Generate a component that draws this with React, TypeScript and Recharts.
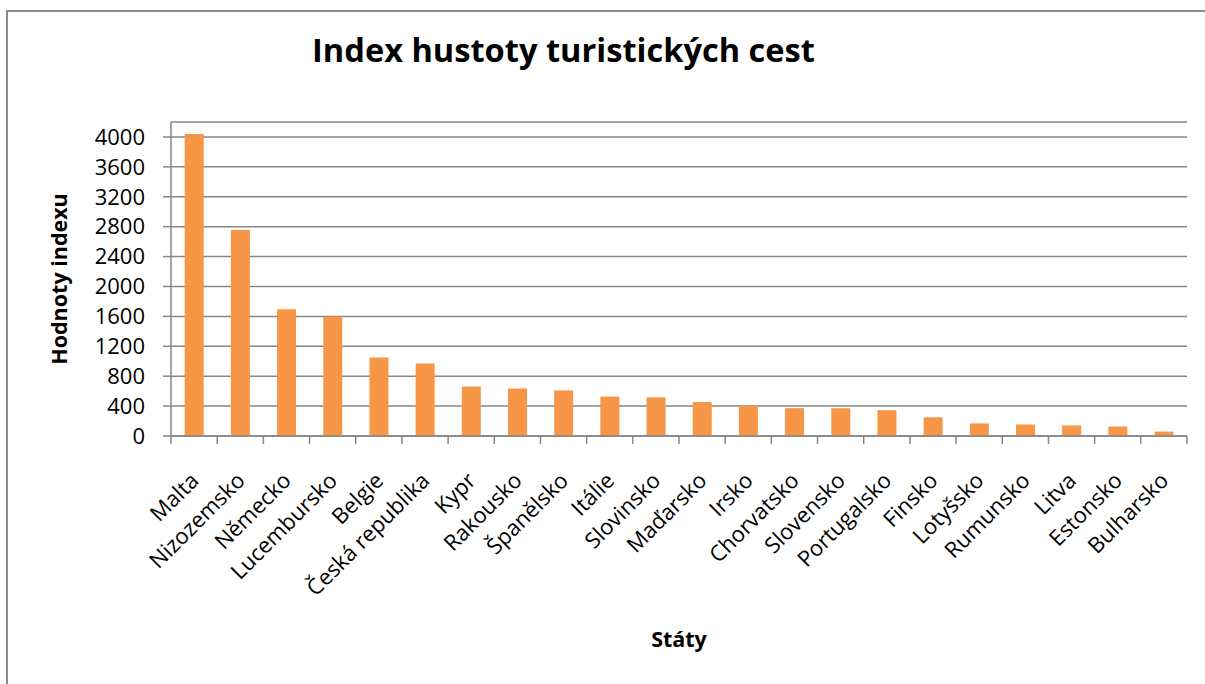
import { BarChart, Bar, XAxis, YAxis, CartesianGrid } from "recharts";

const categories = [
  "Malta",
  "Nizozemsko",
  "Německo",
  "Lucembursko",
  "Belgie",
  "Česká republika",
  "Kypr",
  "Rakousko",
  "Španělsko",
  "Itálie",
  "Slovinsko",
  "Maďarsko",
  "Irsko",
  "Chorvatsko",
  "Slovensko",
  "Portugalsko",
  "Finsko",
  "Lotyšsko",
  "Rumunsko",
  "Litva",
  "Estonsko",
  "Bulharsko",
];

const values = [
  4040, 2755, 1695, 1600, 1050, 970, 662, 635, 610, 528, 518, 455, 405, 373,
  371, 345, 250, 168, 155, 141, 127, 59,
];

const yTicks = [0, 400, 800, 1200, 1600, 2000, 2400, 2800, 3200, 3600, 4000];

const chartData = categories.map((name, i) => ({ name, value: values[i] }));

const FONT = "'Open Sans', sans-serif";
const AXIS = "#868686";

function CategoryTick(props: any) {
  const { x, y, payload, index, visibleTicksCount } = props;
  const half = payload && payload.offset ? payload.offset : 23.1;
  const last = index === visibleTicksCount - 1;
  const tx = x + 6;
  const ty = y + 46;
  return (
    <g>
      <line x1={x - half} x2={x - half} y1={y} y2={y + 8} stroke={AXIS} strokeWidth={1.5} />
      {last && (
        <line x1={x + half} x2={x + half} y1={y} y2={y + 8} stroke={AXIS} strokeWidth={1.5} />
      )}
      <text
        x={tx}
        y={ty}
        textAnchor="end"
        transform={`rotate(-45, ${tx}, ${ty})`}
        fontFamily={FONT}
        fontSize={22}
        fill="#000"
      >
        {payload.value}
      </text>
    </g>
  );
}

export default function App() {
  return (
    <div
      style={{
        position: "absolute",
        left: 0,
        top: 0,
        width: 1205,
        height: 684,
        overflow: "hidden",
        background: "#fff",
      }}
    >
      <div
        style={{
          position: "absolute",
          left: 6,
          top: 10,
          width: 1300,
          height: 800,
          border: "2px solid #8b8b8b",
        }}
      />
      <div
        style={{
          position: "absolute",
          left: 0,
          top: 34,
          width: 1127,
          textAlign: "center",
          fontFamily: FONT,
          fontWeight: 700,
          fontSize: 32.6,
          lineHeight: 1,
          color: "#000",
        }}
      >
        Index hustoty turistických cest
      </div>
      <div style={{ position: "absolute", left: 0, top: 0 }}>
        <BarChart
          width={1205}
          height={684}
          data={chartData}
          margin={{ top: 122, right: 18, bottom: 0, left: 0 }}
          barCategoryGap="29.7%"
        >
          <CartesianGrid horizontal vertical={false} stroke={AXIS} strokeWidth={1.5} />
          <XAxis
            dataKey="name"
            interval={0}
            height={248}
            tickSize={0}
            tickMargin={0}
            tickLine={false}
            axisLine={{ stroke: AXIS, strokeWidth: 1.5 }}
            tick={<CategoryTick />}
            label={{
              content: (p: any) => {
                const vb = p.viewBox || {};
                return (
                  <text
                    x={vb.x + vb.width / 2}
                    y={vb.y + 211}
                    textAnchor="middle"
                    fontFamily={FONT}
                    fontWeight={700}
                    fontSize={21.5}
                    fill="#000"
                  >
                    Státy
                  </text>
                );
              },
            }}
          />
          <YAxis
            width={171}
            domain={[0, 4200]}
            ticks={yTicks}
            interval={0}
            tickSize={8}
            tickMargin={18}
            tickLine={{ stroke: AXIS, strokeWidth: 1.5 }}
            axisLine={{ stroke: AXIS, strokeWidth: 1.5 }}
            tick={{ fontFamily: FONT, fontSize: 22, fill: "#000" }}
            label={{
              content: (p: any) => {
                const vb = p.viewBox || {};
                const cx = vb.x + 58;
                const cy = vb.y + vb.height / 2;
                return (
                  <text
                    x={cx}
                    y={cy}
                    textAnchor="middle"
                    dominantBaseline="central"
                    transform={`rotate(-90, ${cx}, ${cy})`}
                    fontFamily={FONT}
                    fontWeight={700}
                    fontSize={21.5}
                    fill="#000"
                  >
                    Hodnoty indexu
                  </text>
                );
              },
            }}
          />
          <Bar dataKey="value" fill="#F79646" isAnimationActive={false} />
        </BarChart>
      </div>
    </div>
  );
}
